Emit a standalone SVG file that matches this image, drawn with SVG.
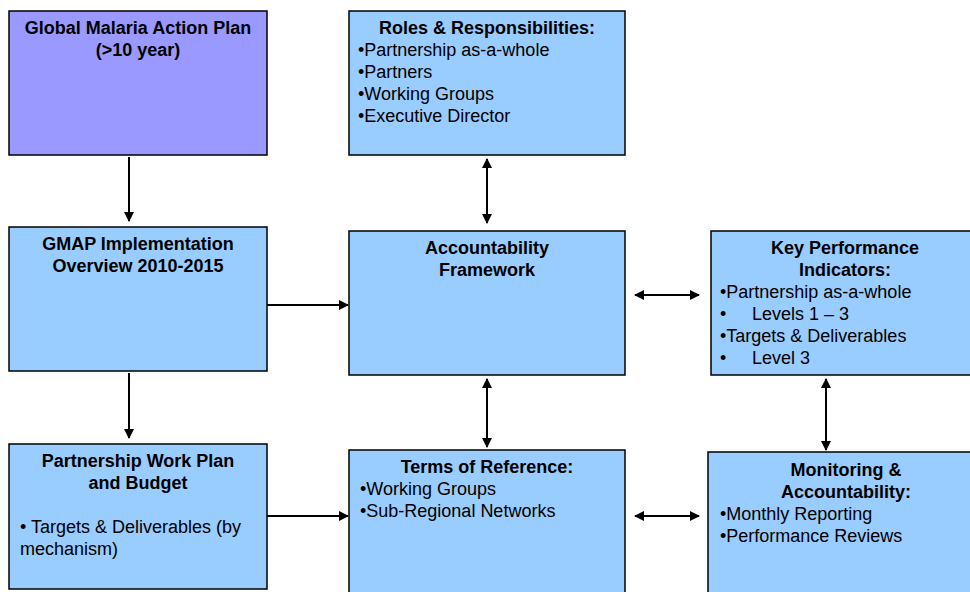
<svg xmlns="http://www.w3.org/2000/svg" width="970" height="592" viewBox="0 0 970 592">
<style>
.box{stroke:#000;stroke-width:1.5}
.p{fill:#9999FF}
.b{fill:#99CCFF}
text{font-family:"Liberation Sans",Arial,sans-serif;font-size:18px;fill:#000}
.t{font-weight:bold;text-anchor:middle}
.c{stroke:#000;stroke-width:2;fill:none}
</style>
<defs>
<marker id="ah" viewBox="0 0 10 10" refX="9" refY="5" markerWidth="5" markerHeight="5" orient="auto-start-reverse" markerUnits="strokeWidth">
<path d="M0,0 L10,5 L0,10 z" fill="#000"/>
</marker>
</defs>
<rect width="970" height="592" fill="#fff"/>
<g id="gmap-plan">
<rect class="box p" x="9" y="11" width="258" height="144"/>
<text class="t" x="138" y="34">Global Malaria Action Plan</text>
<text class="t" x="138" y="56">(&gt;10 year)</text>
</g>
<g id="gmap-impl">
<rect class="box b" x="9" y="227" width="258" height="144"/>
<text class="t" x="138" y="250">GMAP Implementation</text>
<text class="t" x="138" y="272">Overview 2010-2015</text>
</g>
<g id="work-plan">
<rect class="box b" x="9" y="444" width="258" height="145"/>
<text class="t" x="138" y="467">Partnership Work Plan</text>
<text class="t" x="138" y="489">and Budget</text>
<text x="20" y="533">• Targets &amp; Deliverables (by</text>
<text x="20" y="555">mechanism)</text>
</g>
<g id="roles">
<rect class="box b" x="349" y="11" width="276" height="144"/>
<text class="t" x="487" y="34">Roles &amp; Responsibilities:</text>
<text x="358" y="56">•Partnership as-a-whole</text>
<text x="358" y="78">•Partners</text>
<text x="358" y="100">•Working Groups</text>
<text x="358" y="122">•Executive Director</text>
</g>
<g id="accountability">
<rect class="box b" x="349" y="231" width="276" height="144"/>
<text class="t" x="487" y="254">Accountability</text>
<text class="t" x="487" y="276">Framework</text>
</g>
<g id="kpi">
<rect class="box b" x="711" y="231" width="270" height="144"/>
<text class="t" x="845" y="254">Key Performance</text>
<text class="t" x="845" y="276">Indicators:</text>
<text x="720" y="298">•Partnership as-a-whole</text>
<text x="720" y="320">•</text>
<text x="752" y="320">Levels 1 – 3</text>
<text x="720" y="342">•Targets &amp; Deliverables</text>
<text x="720" y="364">•</text>
<text x="752" y="364">Level 3</text>
</g>
<g id="tor">
<rect class="box b" x="349" y="450" width="276" height="150"/>
<text class="t" x="487" y="473">Terms of Reference:</text>
<text x="360" y="495">•Working Groups</text>
<text x="360" y="517">•Sub-Regional Networks</text>
</g>
<g id="monitoring">
<rect class="box b" x="708" y="452" width="275" height="150"/>
<text class="t" x="846" y="476">Monitoring &amp;</text>
<text class="t" x="846" y="498">Accountability:</text>
<text x="720" y="520">•Monthly Reporting</text>
<text x="720" y="542">•Performance Reviews</text>
</g>
<g id="connectors">
<line class="c" x1="129" y1="157" x2="129" y2="221" marker-end="url(#ah)"/>
<line class="c" x1="129" y1="373" x2="129" y2="438" marker-end="url(#ah)"/>
<line class="c" x1="267" y1="305" x2="348" y2="305" marker-end="url(#ah)"/>
<line class="c" x1="267" y1="516" x2="348" y2="516" marker-end="url(#ah)"/>
<line class="c" x1="487" y1="159" x2="487" y2="223" marker-start="url(#ah)" marker-end="url(#ah)"/>
<line class="c" x1="487" y1="379" x2="487" y2="447" marker-start="url(#ah)" marker-end="url(#ah)"/>
<line class="c" x1="635" y1="295" x2="699" y2="295" marker-start="url(#ah)" marker-end="url(#ah)"/>
<line class="c" x1="635" y1="516" x2="699" y2="516" marker-start="url(#ah)" marker-end="url(#ah)"/>
<line class="c" x1="826" y1="379" x2="826" y2="450" marker-start="url(#ah)" marker-end="url(#ah)"/>
</g>
</svg>
